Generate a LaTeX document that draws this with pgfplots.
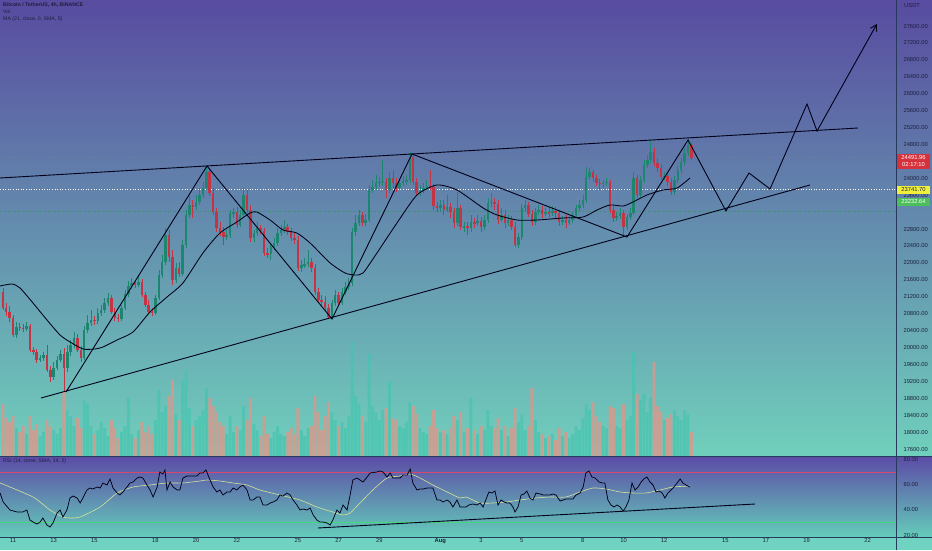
\documentclass[border=0pt]{standalone}
\usepackage{fontspec}
\setmainfont{Liberation Sans}
\usepackage{pgfplots}
\usepackage{pgfplotstable}
\pgfplotsset{compat=1.18}
\usetikzlibrary{arrows.meta}

\definecolor{bgtop}{RGB}{88,75,160}
\definecolor{bgbot}{RGB}{112,208,188}
\definecolor{rsitop}{RGB}{92,74,166}
\definecolor{rsibot}{RGB}{100,204,186}
\definecolor{strip}{RGB}{112,210,192}
\definecolor{upc}{RGB}{28,134,112}
\definecolor{dnc}{RGB}{196,52,68}
\definecolor{volup}{RGB}{72,196,176}
\definecolor{voldn}{RGB}{222,150,138}
\definecolor{ink}{RGB}{30,32,62}
\definecolor{sep}{RGB}{38,58,92}
\definecolor{rsisma}{RGB}{214,226,150}
\definecolor{obl}{RGB}{214,70,110}
\definecolor{osl}{RGB}{70,215,120}
\definecolor{lblred}{RGB}{214,50,62}
\definecolor{lblyel}{RGB}{240,240,60}
\definecolor{lblgrn}{RGB}{76,190,90}

% 4h candles, k = candle index (k=0 is 11 Jul 00:00), volume in k BTC
\pgfplotstableread{
k o h l c v
-3 21312 21407 20887 20934 26
-2 20934 21052 20745 20839 19
-1 20839 20981 20603 20698 17
0 20698 20769 20248 20296 20
1 20296 20603 20225 20485 14
2 20485 20580 20390 20461 12
3 20461 20556 20367 20450 15
4 20450 20603 20390 20509 11
5 20509 20556 19894 19941 20
6 19941 20012 19823 19894 13
7 19894 19965 19634 19705 16
8 19705 19823 19657 19752 10
9 19752 19894 19681 19823 12
10 19823 20059 19421 19468 18
11 19468 19563 19184 19303 15
12 19303 19657 19232 19516 13
13 19516 19799 19468 19705 11
14 19705 19941 19657 19846 14
15 19846 19988 18948 19516 32
16 19516 20059 19421 19894 23
17 19894 20177 19799 20059 20
18 20059 20367 19988 20225 15
19 20225 20319 19894 19941 19
20 19941 20035 19657 19752 14
21 19752 20509 19705 20414 28
22 20414 20769 20343 20580 26
23 20580 20887 20509 20650 15
24 20650 20745 20532 20627 11
25 20627 20934 20556 20816 13
26 20816 21005 20745 20887 17
27 20887 21170 20816 21052 14
28 21052 21288 20981 21170 10
29 21170 21241 20792 20839 18
30 20839 20934 20627 20698 14
31 20698 20792 20603 20674 9
32 20674 21005 20627 20934 12
33 20934 21359 20887 21265 15
34 21265 21572 21194 21454 29
35 21454 21643 21383 21525 11
36 21525 21596 21407 21478 9
37 21478 21690 21430 21548 13
38 21548 21619 21194 21241 17
39 21241 21312 20957 21005 12
40 21005 21123 20792 20839 15
41 20839 20934 20745 20816 11
42 20816 21241 20769 21170 18
43 21170 21832 21123 21714 33
44 21714 22187 21643 22021 22
45 22021 22825 21950 22660 25
46 22660 22778 22021 22140 30
47 22140 22305 21478 21596 38
48 21596 21998 21525 21880 21
49 21880 22021 21667 21738 18
50 21738 22541 21690 22423 38
51 22423 23251 22352 23133 43
52 23133 23582 23062 23369 24
53 23369 23487 23062 23321 15
54 23321 23605 23251 23440 18
55 23440 23771 23369 23605 20
56 23605 23913 23534 23771 23
57 23771 24291 23723 24149 34
58 24149 24244 23582 23652 29
59 23652 23771 23133 23203 25
60 23203 23298 22730 22825 22
61 22825 22967 22636 22730 17
62 22730 22849 22423 22612 15
63 22612 22778 22541 22660 11
64 22660 23251 22589 23180 20
65 23180 23298 23062 23203 12
66 23203 23321 22825 22896 15
67 22896 23251 22849 23133 13
68 23133 23771 23062 23605 25
69 23605 23723 23180 23251 18
70 23251 23369 22494 22589 29
71 22589 22778 22494 22707 16
72 22707 22967 22636 22825 13
73 22825 22896 22683 22754 10
74 22754 22825 22163 22234 20
75 22234 22352 22116 22210 11
76 22210 22470 22069 22376 9
77 22376 22589 22305 22470 12
78 22470 22825 22399 22707 15
79 22707 22896 22636 22778 11
80 22778 23014 22707 22849 10
81 22849 22920 22660 22730 12
82 22730 22825 22518 22589 14
83 22589 22707 22447 22541 11
84 22541 22636 21809 21880 24
85 21880 22069 21785 21950 13
86 21950 22116 21880 21974 10
87 21974 22305 21903 22021 14
88 22021 22116 21785 21880 15
89 21880 21974 21241 21312 30
90 21312 21407 21052 21123 22
91 21123 21241 21005 21076 13
92 21076 21217 20839 20934 20
93 20934 21028 20674 20721 27
94 20721 21123 20674 21052 22
95 21052 21359 20981 21241 18
96 21241 21312 20981 21052 15
97 21052 21407 21005 21312 17
98 21312 21548 21241 21430 14
99 21430 21643 21359 21525 20
100 21525 22825 21454 22730 57
101 22730 23133 22636 22943 30
102 22943 23251 22872 23133 26
103 23133 23203 22872 22943 20
104 22943 23156 22872 23014 17
105 23014 23842 22967 23723 51
106 23723 23960 23652 23795 25
107 23795 24078 23723 23889 22
108 23889 24031 23795 23913 18
109 23913 24433 23818 23936 23
110 23913 24007 23534 23723 24
111 23723 24149 23652 24007 37
112 24007 24196 23771 23889 19
113 23889 24007 23676 23771 18
114 23771 23960 23723 23889 15
115 23889 24054 23818 23936 14
116 23936 24078 23842 23960 17
117 23960 24622 23889 24504 27
118 24504 24598 23842 23913 25
119 23913 24007 23582 23652 21
120 23652 23842 23582 23723 14
121 23723 23889 23652 23771 12
122 23771 23960 23723 23818 11
123 23818 24196 23723 23795 15
124 23795 23865 23251 23345 23
125 23345 23440 23203 23298 14
126 23298 23487 23203 23369 12
127 23369 23487 23133 23251 13
128 23251 23605 23203 23321 11
129 23321 23416 23062 23203 14
130 23203 23298 22825 22943 20
131 22943 23676 22872 23298 18
132 23298 23369 22778 22849 22
133 22849 22967 22730 22872 12
134 22872 22967 22660 22825 14
135 22825 23133 22730 22967 29
136 22967 23062 22825 22943 13
137 22943 23133 22872 22991 11
138 22991 23085 22730 22849 15
139 22849 23133 22778 23014 13
140 23014 23534 22943 23416 23
141 23416 23652 23321 23440 15
142 23440 23534 23251 23392 14
143 23392 23487 22920 23014 19
144 23014 23298 22967 23133 13
145 23133 23251 22825 22943 15
146 22943 23133 22872 23014 10
147 23014 23109 22778 22849 14
148 22849 22967 22376 22423 24
149 22423 22707 22352 22612 17
150 22612 23392 22541 23298 21
151 23298 23487 23203 23369 13
152 23369 23440 23085 23156 15
153 23156 23251 22872 22967 34
154 22967 23298 22896 23203 18
155 23203 23369 23133 23251 12
156 23251 23345 23062 23156 11
157 23156 23298 23109 23203 9
158 23203 23298 23085 23180 10
159 23180 23345 23109 23227 11
160 23227 23321 23062 23180 8
161 23180 23251 22872 22967 14
162 22967 23109 22896 23014 10
163 23014 23133 22825 22943 12
164 22943 23109 22896 23014 9
165 23014 23203 22943 23133 11
166 23133 23369 23062 23298 15
167 23298 23487 23227 23369 13
168 23369 23605 23298 23487 19
169 23487 24267 23416 24031 26
170 24031 24244 23960 24149 23
171 24149 24196 23913 24007 27
172 24007 24078 23818 23889 20
173 23889 23984 23723 23865 17
174 23865 23960 23771 23889 15
175 23889 24007 23818 23913 14
176 23913 23960 23180 23251 25
177 23251 23345 22967 23062 24
178 23062 23203 22991 23109 15
179 23109 23298 23038 23180 14
180 23180 23251 22660 22849 26
181 22849 23156 22778 23085 18
182 23085 23298 23014 23180 20
183 23180 24149 23133 24007 52
184 24007 24078 23534 23605 31
185 23605 24054 23534 23960 28
186 23960 24433 23889 24314 31
187 24314 24551 24244 24433 22
188 24433 24905 24362 24622 29
189 24622 24716 24291 24362 47
190 24362 24480 24149 24244 25
191 24244 24338 23960 24031 22
192 24031 24149 23960 24054 18
193 24054 24149 23818 23913 19
194 23913 24007 23605 23676 21
195 23676 24054 23605 23960 23
196 23960 24291 23889 24196 20
197 24196 24480 24125 24385 18
198 24385 24716 24314 24598 23
199 24598 24929 24527 24787 21
200 24787 24834 24433 24492 12
}\candles

\pgfplotsset{
  wick/.style={only marks, mark=*, mark size=0pt, mark options={draw=none, fill=none},
    error bars/y dir=both, error bars/y explicit,
    error bars/error mark=none, error bars/error bar style={line width=0.6pt, draw=#1, solid}},
  body/.style={only marks, mark=*, mark size=0pt, mark options={draw=none, fill=none},
    error bars/y dir=both, error bars/y explicit,
    error bars/error mark=none, error bars/error bar style={line width=2.5pt, draw=#1, solid}},
  up/.style={restrict expr to domain={\thisrow{c}-\thisrow{o}}{0:100000}},
  down/.style={restrict expr to domain={\thisrow{c}-\thisrow{o}}{-100000:-0.001}},
  panel/.style={at={(0pt,94pt)}, anchor=south west, width=896pt, height=456pt,
    scale only axis, xmin=-3.833, xmax=260.34},
}

\newcommand{\hdr}{\fontsize{5.2}{6}\selectfont}
\newcommand{\lbl}{\fontsize{5.8}{6.5}\selectfont}

\begin{document}
\begin{tikzpicture}
\useasboundingbox (0pt,0pt) rectangle (932pt,550pt);
\shade[top color=bgtop, bottom color=bgbot] (0pt,94pt) rectangle (932pt,550pt);
\shade[top color=rsitop, bottom color=rsibot] (0pt,13pt) rectangle (932pt,94pt);
\fill[strip] (0pt,0pt) rectangle (932pt,13pt);

% volume
\begin{axis}[panel, ymin=0, ymax=228, axis lines=none]
\addplot[ybar, bar width=2.9pt, bar shift=0pt, fill=volup, draw=none, fill opacity=0.75, up]
  table[x=k, y=v]{\candles};
\addplot[ybar, bar width=2.9pt, bar shift=0pt, fill=voldn, draw=none, fill opacity=0.8, down]
  table[x=k, y=v]{\candles};
\end{axis}

% price
\begin{axis}[panel, ymin=17435, ymax=28215,
  axis line style={draw=none}, tick style={draw=none},
  xtick=\empty, scaled y ticks=false,
  ytick={17600,18000,18400,18800,19200,19600,20000,20400,20800,21200,21600,22000,22400,22800,23600,24000,24800,25200,25600,26000,26400,26800,27200,27600},
  yticklabel pos=right,
  yticklabel style={font=\lbl, text=ink, anchor=west, xshift=4pt,
    /pgf/number format/.cd, fixed, fixed zerofill, precision=2, 1000 sep={}, assume math mode=true}]
\addplot[white, dotted, line width=0.6pt] coordinates {(-3.833,23741.7)(260.34,23741.7)};
\addplot[black!50, dotted, line width=0.5pt, opacity=0.5] coordinates {(-3.833,24491.96)(260.34,24491.96)};
\addplot[green!60!black, dotted, line width=0.5pt, opacity=0.4] coordinates {(-3.833,23232.64)(260.34,23232.64)};

\addplot[up, wick=upc]
  table[x=k, y expr={(\thisrow{h}+\thisrow{l})/2}, y error expr={(\thisrow{h}-\thisrow{l})/2}]{\candles};
\addplot[down, wick=dnc]
  table[x=k, y expr={(\thisrow{h}+\thisrow{l})/2}, y error expr={(\thisrow{h}-\thisrow{l})/2}]{\candles};
\addplot[up, body=upc]
  table[x=k, y expr={(\thisrow{o}+\thisrow{c})/2}, y error expr={abs(\thisrow{c}-\thisrow{o})/2+10}]{\candles};
\addplot[down, body=dnc]
  table[x=k, y expr={(\thisrow{o}+\thisrow{c})/2}, y error expr={abs(\thisrow{c}-\thisrow{o})/2+10}]{\candles};

% MA (21, close)
\addplot[black!90!blue, line width=0.85pt, smooth, tension=0.4] coordinates {
(-3.83,21454)(-0.29,21501)(2.06,21407)(5.90,21052)(10.02,20650)(13.86,20296)(16.81,20130)(20.64,19965)(24.18,19965)(26.54,20012)(30.66,20177)(35.38,20367)(40.39,20839)(45.41,21194)(50.1,21525)(56.0,22234)(61.0,22707)(66.0,22967)(69.9,23180)(71.9,23203)(75.8,23014)(79.6,22778)(83.7,22707)(87.6,22470)(93.5,21998)(97.9,21761)(100.8,21714)(103.2,21761)(107.3,22234)(113.2,22943)(119.1,23605)(125.0,23842)(130.9,23723)(138.6,23298)(142.7,23133)(148.6,23014)(154.5,23014)(162.2,23062)(168.1,23085)(172.2,23251)(176.0,23369)(179.9,23345)(182.8,23440)(186.9,23605)(191.6,23723)(195.8,23771)(199.6,24007)};

% drawings
\addplot[black!90!blue, line width=0.9pt] coordinates {(-3.83,24007)(249.1,25189)};
\addplot[black!90!blue, line width=0.9pt] coordinates {(8.26,18806)(235.0,23842)};
\addplot[black!90!blue, line width=0.9pt, -{Straight Barb[length=6pt,width=7pt]}] coordinates {
(15.63,18948)(57.2,24291)(94.05,20674)(117.64,24575)(181.03,22612)(199.02,24905)(210.2,23227)(217.0,24125)(223.2,23747)(234.1,25756)(237.05,25118)(254.7,27648)};
\end{axis}

% RSI
\begin{axis}[at={(0pt,13pt)}, anchor=south west, width=896pt, height=81pt, scale only axis,
  xmin=-3.833, xmax=260.34, ymin=18.4, ymax=83.2,
  axis line style={draw=none}, tick style={draw=none},
  ytick={20,40,60,80}, yticklabel pos=right,
  yticklabel style={font=\lbl, text=ink, anchor=west, xshift=4pt,
    /pgf/number format/.cd, fixed, fixed zerofill, precision=2, assume math mode=true},
  xtick={0,12,24,42,54,66,84,96,108,126,138,150,168,180,192,210,222,234,252},
  xticklabels={11,13,15,18,20,22,25,27,29,\textbf{Aug},3,5,8,10,12,15,17,19,22},
  xticklabel style={font=\lbl, text=ink, inner sep=1.5pt}]
\addplot[obl, line width=0.6pt] coordinates {(-3.833,70)(260.34,70)};
\addplot[osl, line width=0.6pt] coordinates {(-3.833,30)(260.34,30)};
\addplot[rsisma, line width=0.6pt, smooth, tension=0.4] coordinates {
(-3.8,61.6)(5.9,50.4)(10.9,40.0)(14.7,34.4)(16.8,33.6)(19.8,34.4)(25.7,42.4)(30.7,53.6)(35.4,58.4)(40.4,60.0)(45.4,61.6)(50.1,61.6)(55.1,63.2)(57.2,64.0)(61.0,63.2)(64.9,61.6)(69.0,60.0)(72.8,56.0)(78.7,52.0)(84.6,48.0)(89.6,42.4)(94.3,38.4)(97.3,36.0)(99.4,37.6)(102.3,45.6)(106.1,56.0)(110.3,65.6)(114.1,67.2)(117.1,68.8)(120.0,65.6)(123.8,60.0)(128.0,54.4)(131.8,49.6)(133.6,50.4)(137.7,45.6)(141.5,45.6)(145.4,46.4)(149.5,48.0)(154.2,49.6)(158.3,50.4)(163.0,50.4)(167.2,54.4)(171.0,57.6)(174.8,56.8)(179.0,54.4)(182.8,53.6)(186.6,53.6)(190.8,56.0)(194.6,58.4)(199.6,59.2)};
\addplot[black!90!blue, line width=0.75pt] coordinates {
(-3.8,53.6)(-2.9,46.4)(-0.9,40.0)(1.2,38.4)(2.9,38.4)(4.1,40.0)(5.0,32.0)(5.9,30.4)(7.1,28.8)(8.0,30.4)(8.8,33.6)(10.0,28.0)(10.9,26.4)(11.8,29.6)(13.0,37.6)(13.9,40.0)(14.7,34.4)(15.9,40.0)(16.8,49.6)(17.7,51.2)(18.9,49.6)(19.8,45.6)(20.6,49.6)(21.8,56.0)(22.7,57.6)(23.6,56.8)(24.8,58.4)(25.7,57.6)(26.5,61.6)(27.7,60.0)(28.6,64.8)(29.5,57.6)(30.7,53.6)(31.5,52.0)(32.4,54.4)(33.6,58.4)(34.5,61.6)(35.4,62.4)(36.6,65.6)(37.4,66.4)(38.3,65.6)(39.5,60.0)(40.4,56.0)(41.3,50.4)(42.5,58.4)(43.3,70.4)(44.2,68.8)(44.8,72.0)(45.4,56.0)(46.3,62.4)(47.2,58.4)(48.4,56.0)(49.2,56.0)(50.1,65.6)(51.3,67.2)(52.2,67.2)(53.1,67.2)(54.2,67.2)(55.1,69.6)(56.0,69.6)(56.9,72.0)(58.1,64.0)(59.0,58.4)(60.1,54.4)(61.0,56.0)(61.9,52.0)(63.1,54.4)(64.0,54.4)(64.9,57.6)(66.0,56.0)(66.9,58.4)(67.8,60.0)(69.0,56.0)(69.9,48.0)(70.8,48.0)(71.9,50.4)(72.8,50.4)(73.7,44.0)(74.9,44.0)(75.8,45.6)(76.7,46.4)(77.8,48.0)(78.7,52.0)(79.6,51.2)(80.8,53.6)(81.7,52.0)(82.6,48.0)(83.7,44.0)(84.6,40.0)(85.5,40.8)(86.7,40.0)(87.6,41.6)(88.5,36.0)(89.6,32.0)(90.5,30.4)(91.4,30.4)(92.6,29.6)(93.5,28.0)(94.3,32.0)(95.5,40.0)(96.4,37.6)(97.3,44.0)(98.5,40.0)(99.4,52.0)(100.2,64.0)(101.4,65.6)(102.3,64.0)(103.2,62.4)(104.4,66.4)(105.3,69.6)(107.3,70.4)(108.2,71.2)(109.1,70.4)(110.3,66.4)(111.2,69.6)(112.0,65.6)(113.2,65.6)(114.1,65.6)(115.0,68.0)(116.2,68.0)(117.1,72.8)(117.9,61.6)(119.1,56.0)(120.0,56.8)(120.9,56.8)(122.1,57.6)(122.9,57.6)(123.8,57.6)(125.0,48.0)(125.9,48.0)(126.8,46.4)(128.0,48.0)(128.8,46.4)(129.7,42.4)(130.9,48.0)(131.8,42.4)(133.6,42.4)(134.4,44.0)(135.6,44.8)(136.8,44.0)(137.7,45.6)(138.6,42.4)(139.5,48.8)(140.3,54.4)(141.2,53.6)(142.1,55.2)(143.0,44.0)(143.9,48.0)(144.8,46.4)(145.7,45.6)(146.5,45.6)(147.4,42.4)(148.0,38.4)(148.9,42.4)(149.8,52.0)(150.7,52.8)(151.5,55.2)(152.4,49.6)(153.3,48.0)(154.2,53.6)(155.4,52.8)(156.3,52.0)(157.4,52.0)(158.3,52.0)(159.2,52.8)(160.1,52.0)(161.3,47.2)(162.2,48.0)(163.0,48.8)(164.2,48.8)(165.1,48.8)(166.0,52.0)(167.2,53.6)(168.1,58.4)(168.9,69.6)(169.8,71.2)(170.7,66.4)(171.6,65.6)(172.8,62.4)(173.7,61.6)(174.5,61.6)(175.4,48.0)(176.3,44.0)(177.2,42.4)(178.1,44.0)(179.0,42.4)(179.9,39.2)(180.7,42.4)(181.6,48.0)(182.5,61.6)(183.4,56.0)(184.3,58.4)(185.2,62.4)(186.0,64.8)(186.9,66.4)(187.8,62.4)(188.7,60.0)(189.6,54.4)(190.5,55.2)(191.4,53.6)(192.2,49.6)(193.1,53.6)(194.0,56.0)(194.9,58.4)(195.8,61.6)(196.7,64.8)(197.5,61.6)(198.4,60.0)(199.6,58.4)};
\addplot[black!90!blue, line width=0.9pt] coordinates {(89.9,25.6)(218.8,44.8)};
\end{axis}

% panel separators
\draw[sep, line width=0.6pt] (896pt,0pt) -- (896pt,550pt);
\draw[sep, line width=0.6pt] (0pt,94pt) -- (932pt,94pt);
\draw[sep, line width=0.6pt] (0pt,13pt) -- (932pt,13pt);

% legends
\node[anchor=north west, inner sep=0, font=\hdr\bfseries, text=ink] at (3pt,547pt) {Bitcoin / TetherUS, 4h, BINANCE};
\node[anchor=north west, inner sep=0, font=\hdr, text=ink] at (3pt,540pt) {Vol};
\node[anchor=north west, inner sep=0, font=\hdr, text=ink] at (3pt,533pt) {MA (21, close, 0, SMA, 5)};
\node[anchor=north west, inner sep=0, font=\hdr, text=ink] at (3pt,91pt) {RSI (14, close, SMA, 14, 2)};
\node[anchor=west, inner sep=0, font=\lbl, text=ink] at (904pt,544pt) {USDT};

% price labels
\fill[lblred] (897pt,381pt) rectangle (930pt,396pt);
\node[inner sep=0, font=\lbl, text=white] at (913.5pt,392pt) {24491.96};
\node[inner sep=0, font=\lbl, text=white] at (913.5pt,385pt) {02:17:10};
\fill[lblyel] (897pt,356pt) rectangle (930pt,364pt);
\node[inner sep=0, font=\lbl, text=ink] at (913.5pt,360pt) {23741.70};
\fill[lblgrn] (897pt,344pt) rectangle (930pt,352pt);
\node[inner sep=0, font=\lbl, text=white] at (913.5pt,348pt) {23232.64};
\end{tikzpicture}
\end{document}
